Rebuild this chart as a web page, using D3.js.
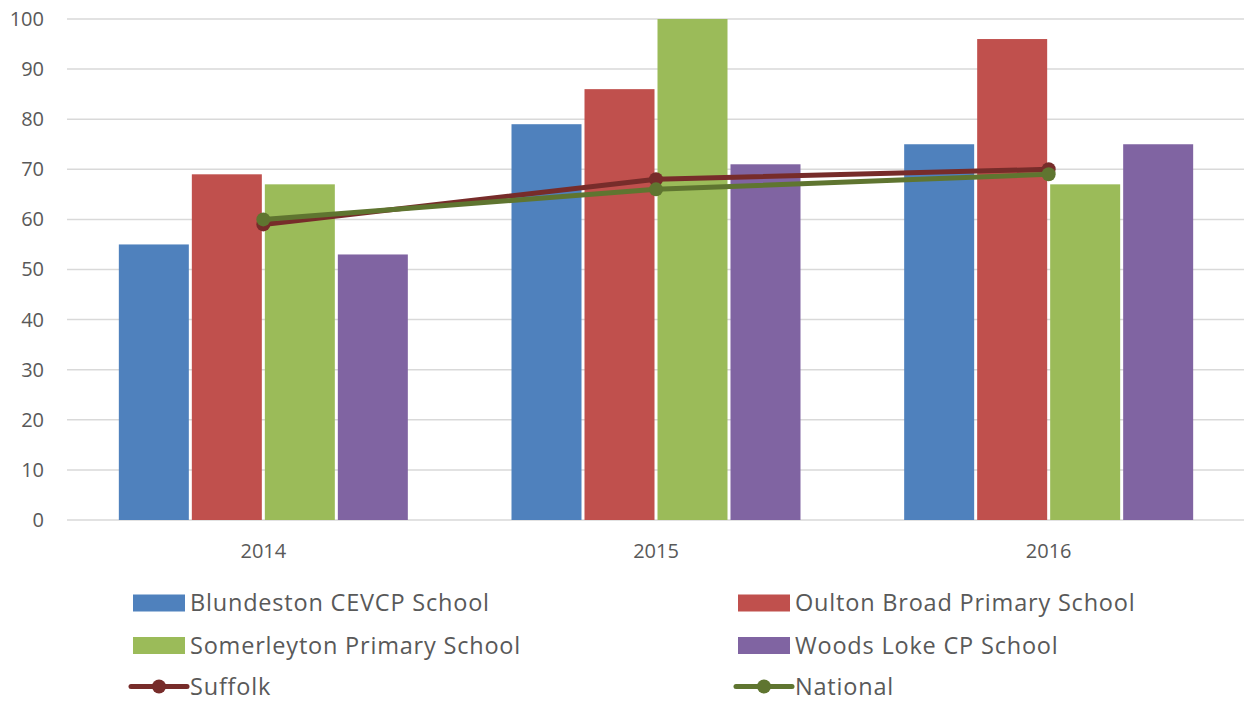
<!DOCTYPE html>
<html><head><meta charset="utf-8">
<script src="https://cdn.jsdelivr.net/npm/d3@7"></script>
<style>body{margin:0;background:#fff;}svg{display:block;font-family:"Open Sans",Lato,sans-serif;}</style>
</head><body><svg id="c" width="1244" height="702"></svg>
<script>
const categories = ["2014","2015","2016"];
const barSeries = ["Blundeston CEVCP School","Oulton Broad Primary School","Somerleyton Primary School","Woods Loke CP School"];
const blundeston = [55,79,75];
const oulton = [69,86,96];
const somerleyton = [67,100,67];
const woodsLoke = [53,71,75];
const suffolk = [59,68,70];
const national = [60,66,69];
const yTicks = [0,10,20,30,40,50,60,70,80,90,100];

const barColors = ["#4f81bd","#c0504d","#9bbb59","#8064a2"];
const lineColors = {Suffolk:"#772c2a", National:"#5f7530"};
const barData = [blundeston, oulton, somerleyton, woodsLoke];
const FONT = "'Open Sans', Lato, sans-serif";

const svg = d3.select("#c");
const L = 67, R = 1245, T = 19, B = 520;
const x = d3.scaleBand().domain(categories).range([L,R]).paddingInner(0).paddingOuter(0);
const y = d3.scaleLinear().domain([0,100]).range([B,T]);
const xs = d3.scaleBand().domain(barSeries).range([0,292]);

// gridlines
svg.append("g").selectAll("line").data(yTicks).join("line")
  .attr("x1",L).attr("x2",1244).attr("y1",d=>y(d)).attr("y2",d=>y(d))
  .attr("stroke","#d9d9d9").attr("stroke-width",1.5);

// y axis labels
const yAxis = d3.axisLeft(y).tickValues(yTicks).tickSize(0).tickPadding(0);
const ya = svg.append("g").attr("transform",`translate(44,0)`).call(yAxis);
ya.select(".domain").remove();
ya.selectAll("text").attr("font-size",20).attr("fill","#595959").attr("font-family",FONT);

// bars
const groups = svg.append("g").selectAll("g").data(categories).join("g")
  .attr("transform",d=>`translate(${x(d)+x.bandwidth()/2-146},0)`);
groups.each(function(cat,ci){
  d3.select(this).selectAll("rect").data(barSeries).join("rect")
    .attr("x",s=>xs(s)+1.5).attr("width",xs.bandwidth()-3)
    .attr("y",(s,si)=>y(barData[si][ci])).attr("height",(s,si)=>B-y(barData[si][ci]))
    .attr("fill",(s,si)=>barColors[si]);
});

// x axis labels
const xAxis = d3.axisBottom(x).tickSize(0).tickPadding(0);
const xa = svg.append("g").attr("transform",`translate(0,${B+38})`).call(xAxis);
xa.select(".domain").remove();
xa.selectAll("text").attr("font-size",20).attr("fill","#595959").attr("dy",0).attr("font-family",FONT);

// lines
const lines = [["Suffolk",suffolk],["National",national]];
const lineGen = d3.line().x((d,i)=>x(categories[i])+x.bandwidth()/2).y(d=>y(d));
lines.forEach(([name,vals])=>{
  svg.append("path").datum(vals).attr("d",lineGen).attr("fill","none")
    .attr("stroke",lineColors[name]).attr("stroke-width",5).attr("stroke-linejoin","round");
  svg.append("g").selectAll("circle").data(vals).join("circle")
    .attr("cx",(d,i)=>x(categories[i])+x.bandwidth()/2).attr("cy",d=>y(d)).attr("r",7)
    .attr("fill",lineColors[name]);
});

// legend
const legendItems = [
  {name:barSeries[0], type:"bar", color:barColors[0], col:0, row:0},
  {name:barSeries[1], type:"bar", color:barColors[1], col:1, row:0},
  {name:barSeries[2], type:"bar", color:barColors[2], col:0, row:1},
  {name:barSeries[3], type:"bar", color:barColors[3], col:1, row:1},
  {name:"Suffolk", type:"line", color:lineColors.Suffolk, col:0, row:2},
  {name:"National", type:"line", color:lineColors.National, col:1, row:2}
];
const colX = [133, 738], rowY = [603, 645.5, 686.5];
const lg = svg.append("g").selectAll("g").data(legendItems).join("g")
  .attr("transform",d=>`translate(${colX[d.col]},${rowY[d.row]})`);
lg.filter(d=>d.type==="bar").append("rect").attr("x",0).attr("y",-8.5).attr("width",52).attr("height",17).attr("fill",d=>d.color);
lg.filter(d=>d.type==="line").append("line").attr("x1",-2).attr("x2",54).attr("y1",0).attr("y2",0)
  .attr("stroke",d=>d.color).attr("stroke-width",5).attr("stroke-linecap","round");
lg.filter(d=>d.type==="line").append("circle").attr("cx",26).attr("cy",0).attr("r",7).attr("fill",d=>d.color);
lg.append("text").attr("x",57).attr("y",0).attr("dy","0.35em").attr("font-size",23.5)
  .attr("letter-spacing","0.8px").attr("fill","#595959").text(d=>d.name);
</script></body></html>
